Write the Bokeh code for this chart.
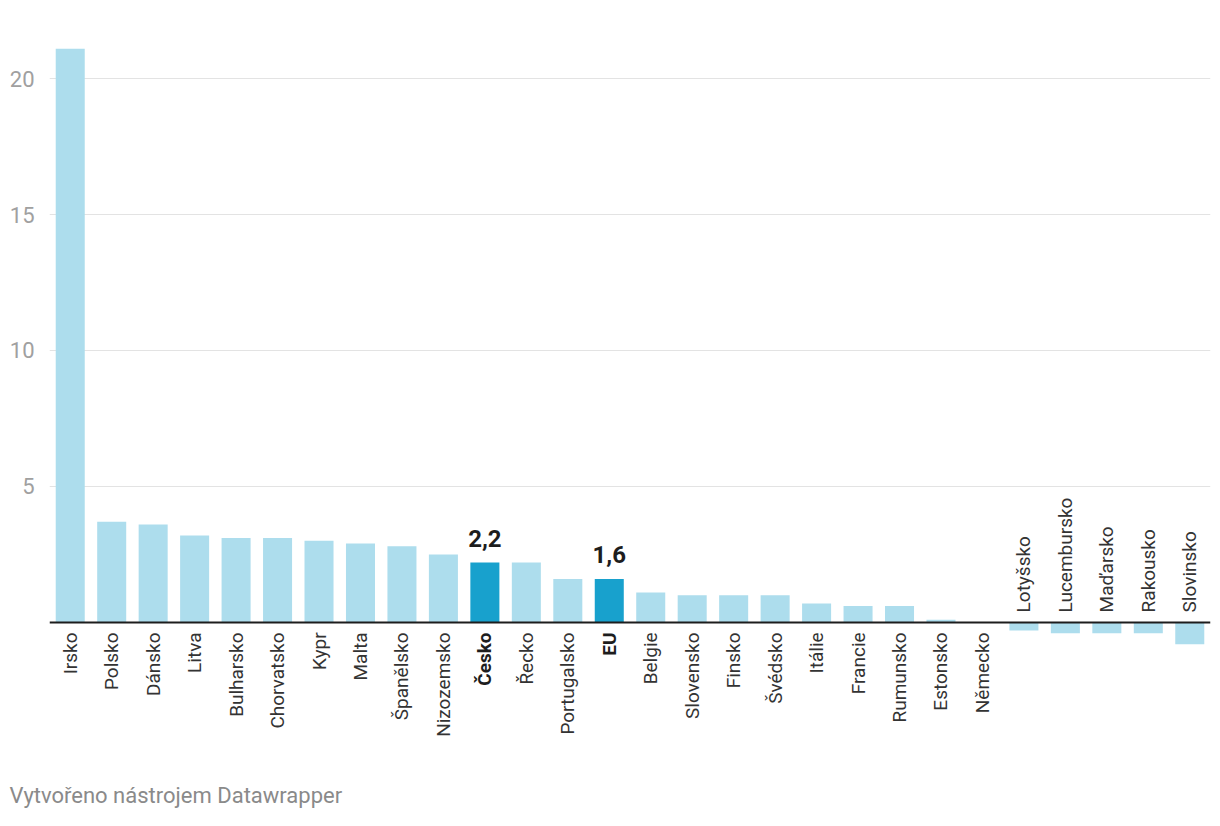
from bokeh.plotting import figure
from bokeh.models import ColumnDataSource, FixedTicker, Range1d, FactorRange, Title, Span
from bokeh.core.properties import value
from bokeh.embed import file_html
from bokeh.resources import INLINE

countries = ["Irsko", "Polsko", "Dánsko", "Litva", "Bulharsko", "Chorvatsko", "Kypr",
             "Malta", "Španělsko", "Nizozemsko", "Česko", "Řecko", "Portugalsko", "EU",
             "Belgie", "Slovensko", "Finsko", "Švédsko", "Itálie", "Francie", "Rumunsko",
             "Estonsko", "Německo", "Lotyšsko", "Lucembursko", "Maďarsko", "Rakousko",
             "Slovinsko"]
values = [21.1, 3.7, 3.6, 3.2, 3.1, 3.1, 3.0, 2.9, 2.8, 2.5, 2.2, 2.2, 1.6, 1.6,
          1.1, 1.0, 1.0, 1.0, 0.7, 0.6, 0.6, 0.1, 0.0, -0.3, -0.4, -0.4, -0.4, -0.8]
highlight = ["Česko", "EU"]
y_ticks = [5, 10, 15, 20]
credit = "Vytvořeno nástrojem Datawrapper"

LIGHT = "#addded"
DARK = "#18a1cd"
FONT = "Roboto"

colors = [DARK if c in highlight else LIGHT for c in countries]
styles = ["bold" if c in highlight else "normal" for c in countries]
label_colors = ["#1d1d1d" if c in highlight else "#333333" for c in countries]

bars = ColumnDataSource(dict(x=countries, top=values, color=colors))

pos = [i for i, v in enumerate(values) if v >= 0]
neg = [i for i, v in enumerate(values) if v < 0]

def sub(idx):
    return ColumnDataSource(dict(
        x=[countries[i] for i in idx],
        y=[0] * len(idx),
        text=[countries[i] for i in idx],
        style=[styles[i] for i in idx],
        color=[label_colors[i] for i in idx],
    ))

pos_src = sub(pos)
neg_src = sub(neg)

hl_idx = [i for i, c in enumerate(countries) if c in highlight]
val_src = ColumnDataSource(dict(
    x=[countries[i] for i in hl_idx],
    y=[values[i] for i in hl_idx],
    text=[f"{values[i]:.1f}".replace(".", ",") for i in hl_idx],
))

p = figure(frame_width=1161, frame_height=707, output_backend="svg", toolbar_location=None,
           x_range=FactorRange(factors=countries, range_padding=0),
           y_range=Range1d(-4.6, 21.4),
           min_border_left=49, min_border_right=2, min_border_top=40,
           min_border_bottom=10)
p.outline_line_color = None
p.background_fill_color = "white"
p.border_fill_color = "white"

p.vbar(x="x", top="top", bottom=0, width=0.7, fill_color="color", line_color=None,
       source=bars)

p.add_layout(Span(location=0, dimension="width", line_color="#1d1d1d", line_width=2))

p.text(x="x", y="y", text="text", source=pos_src, angle=1.5708,
       text_align="right", text_baseline="middle", y_offset=10,
       text_font=value(FONT), text_font_size="19px", text_font_style="style",
       text_color="color")
p.text(x="x", y="y", text="text", source=neg_src, angle=1.5708,
       text_align="left", text_baseline="middle", y_offset=-10,
       text_font=value(FONT), text_font_size="19px", text_font_style="style",
       text_color="color")
p.text(x="x", y="y", text="text", source=val_src,
       text_align="center", text_baseline="alphabetic", y_offset=-24,
       text_font=value(FONT), text_font_size="24px", text_font_style="bold",
       text_color="#1d1d1d")

p.xaxis.visible = False
p.xgrid.visible = False
yax = p.yaxis[0]
yax.ticker = FixedTicker(ticks=y_ticks)
yax.axis_line_color = None
yax.major_tick_line_color = None
yax.minor_tick_line_color = None
yax.major_label_standoff = 9
yax.major_label_text_font = FONT
yax.major_label_text_font_size = "22px"
yax.major_label_text_color = "#a0a0a0"
p.ygrid.grid_line_color = "#e3e3e3"
p.ygrid.grid_line_width = 1

p.add_layout(Title(text=credit, align="left", text_font=FONT, text_font_size="22px",
                   text_font_style="normal", text_color="#8a8a8a", offset=-40,
                   standoff=66), "below")

open("out.html", "w").write(file_html(p, INLINE))
